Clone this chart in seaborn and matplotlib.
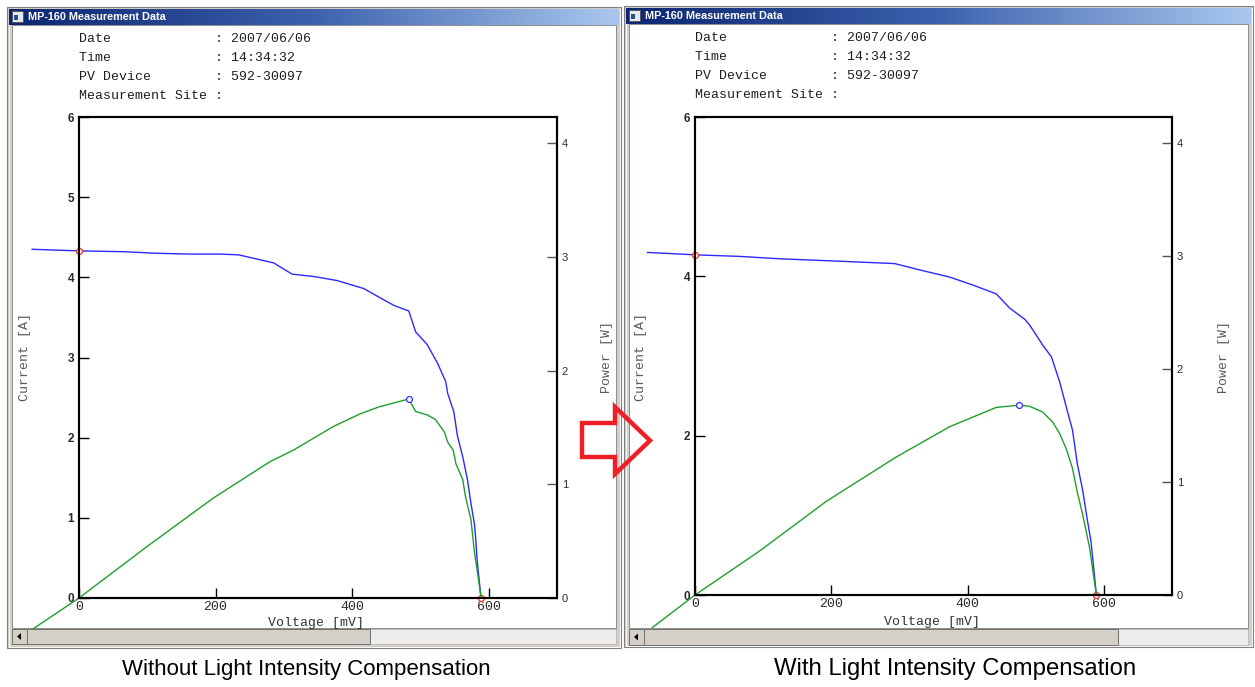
import numpy as np
import pandas as pd
import matplotlib
matplotlib.use("Agg")
import matplotlib.pyplot as plt
from matplotlib.patches import Rectangle, Polygon
from matplotlib.colors import LinearSegmentedColormap
import seaborn as sns

# ---- measured I-V and P-V data (voltage in mV, current in A, power in W) ----
# without light intensity compensation
voltage_iv_a = [-69, 0, 65, 114, 163, 207, 234, 285, 312, 344, 378, 417, 442, 461, 483,
                493, 510, 525, 537, 540, 549, 554, 562, 569, 574, 579, 581, 583, 588, 589]
current_a = [4.35, 4.33, 4.32, 4.30, 4.29, 4.29, 4.28, 4.18, 4.04, 4.01, 3.96, 3.86, 3.74, 3.65, 3.58,
             3.32, 3.16, 2.93, 2.70, 2.55, 2.32, 2.03, 1.76, 1.47, 1.18, 0.93, 0.74, 0.47, 0.06, 0.0]
voltage_p_a = [-67, 0, 99, 197, 280, 314, 373, 412, 439, 483, 493, 510, 522, 535, 540, 548,
               552, 562, 566, 574, 579, 588, 589]
power_a = [-0.27, 0.0, 0.45, 0.88, 1.20, 1.30, 1.51, 1.62, 1.68, 1.75, 1.64, 1.61, 1.57, 1.46, 1.37, 1.30,
           1.18, 1.04, 0.89, 0.69, 0.41, 0.04, 0.0]
isc_a, voc_a = 4.33, 589
vmp_a, pmax_a = 483, 1.75

# with light intensity compensation
voltage_iv_b = [-70, 0, 66, 125, 183, 239, 293, 330, 374, 408, 442, 462, 484, 491, 510, 523,
                535, 547, 554, 561, 569, 576, 581, 586, 589]
current_b = [4.30, 4.27, 4.25, 4.22, 4.20, 4.18, 4.16, 4.08, 3.99, 3.89, 3.78, 3.60, 3.46, 3.39, 3.14, 2.99,
             2.68, 2.29, 2.07, 1.65, 1.31, 0.93, 0.68, 0.26, 0.0]
voltage_p_b = [-63, 0, 95, 193, 295, 374, 418, 442, 476, 491, 510, 525, 535, 545, 554, 561, 569, 579, 589]
power_b = [-0.29, 0.0, 0.39, 0.83, 1.22, 1.49, 1.60, 1.66, 1.68, 1.67, 1.62, 1.53, 1.43, 1.29, 1.12,
           0.91, 0.71, 0.42, 0.0]
isc_b, voc_b = 4.27, 589
vmp_b, pmax_b = 476, 1.68

header_labels = ["Date", "Time", "PV Device", "Measurement Site"]
header_values = ["2007/06/06", "14:34:32", "592-30097", ""]
window_title = "MP-160 Measurement Data"
captions = ["Without Light Intensity Compensation", "With Light Intensity Compensation"]
voltage_ticks = [0, 200, 400, 600]
power_ticks = [0, 1, 2, 3, 4]
current_ticks_a = [0, 1, 2, 3, 4, 5, 6]
current_ticks_b = [0, 2, 4, 6]

W, H = 1255, 687
MONO = "Liberation Mono"
SANS = "Liberation Sans"
BLUE = "#2a2aff"
GREEN = "#1f9e2a"
FRAME = "#d4d0c8"

sns.set_style("ticks")
plt.rcParams["font.family"] = ["DejaVu Sans"]

fig = plt.figure(figsize=(W / 100, H / 100), dpi=100)
fig.patch.set_facecolor("white")


def frac(l, t, r, b):
    return [l / W, 1 - b / H, (r - l) / W, (b - t) / H]


bg = fig.add_axes([0, 0, 1, 1])
bg.set_zorder(0)
fg = fig.add_axes([0, 0, 1, 1])
fg.set_zorder(10)
for a in (bg, fg):
    a.set_xlim(0, W)
    a.set_ylim(H, 0)
    a.axis("off")
    a.patch.set_visible(False)

title_cmap = LinearSegmentedColormap.from_list("titlebar", ["#0c2572", "#3d62ad", "#a9c7ee"])
grad = np.linspace(0, 1, 256)[None, :]


def draw_window(x0, y0, x1, y1, client_top, client_bottom, scroll_bottom, thumb_end):
    # outer frame
    bg.add_patch(Rectangle((x0, y0), x1 - x0, y1 - y0, fc=FRAME, ec="#808080", lw=0.8, zorder=1))
    bg.add_patch(Rectangle((x0 + 1.5, y0 + 1.5), x1 - x0 - 3, y1 - y0 - 3, fc="none", ec="white",
                           lw=0.6, zorder=1.1))
    # title bar
    bg.imshow(grad, cmap=title_cmap, extent=(x0 + 2, x1 - 2, y0 + 18, y0 + 2), aspect="auto",
              zorder=2, interpolation="bilinear")
    bg.add_patch(Rectangle((x0 + 5, y0 + 4), 11, 11, fc="#e8e8e8", ec="#505050", lw=0.6, zorder=3))
    bg.add_patch(Rectangle((x0 + 7, y0 + 8), 4, 5, fc="#2050a0", ec="none", zorder=3.1))
    bg.text(x0 + 21, y0 + 10, window_title, color="white", fontsize=7.8, fontweight="bold",
            family=SANS, va="center", ha="left", zorder=4)
    # client area
    bg.add_patch(Rectangle((x0 + 5, client_top), x1 - x0 - 10, client_bottom - client_top,
                           fc="white", ec="#808080", lw=0.6, zorder=1.5))
    # horizontal scrollbar (drawn above the plot so curves end at it)
    sb_top = client_bottom + 1
    fg.add_patch(Rectangle((x0 + 5, sb_top), x1 - x0 - 10, scroll_bottom - sb_top,
                           fc="#ececec", ec="#b0b0b0", lw=0.5, zorder=1))
    fg.add_patch(Rectangle((x0 + 5, sb_top), 15, scroll_bottom - sb_top,
                           fc=FRAME, ec="#707070", lw=0.7, zorder=2))
    ym = (sb_top + scroll_bottom) / 2
    fg.add_patch(Polygon([(x0 + 10, ym), (x0 + 14, ym - 3.5), (x0 + 14, ym + 3.5)],
                         closed=True, fc="black", ec="none", zorder=3))
    fg.add_patch(Rectangle((x0 + 20, sb_top), thumb_end - (x0 + 20), scroll_bottom - sb_top,
                           fc=FRAME, ec="#707070", lw=0.7, zorder=2))


draw_window(7, 7, 621, 648, 25, 628, 644, 370)
draw_window(624, 6, 1253, 647, 24, 628, 645, 1118)

panels = [
    dict(box=(79, 117, 557, 598), hx=79, hy=39, iv=(voltage_iv_a, current_a), pv=(voltage_p_a, power_a),
         isc=isc_a, voc=voc_a, mp=(vmp_a, pmax_a), cticks=current_ticks_a, cur_x=25, pow_x=607,
         volt=(316, 623), cap=(306, 669), cap_size=16),
    dict(box=(695, 117, 1172, 595), hx=695, hy=38, iv=(voltage_iv_b, current_b), pv=(voltage_p_b, power_b),
         isc=isc_b, voc=voc_b, mp=(vmp_b, pmax_b), cticks=current_ticks_b, cur_x=641, pow_x=1224,
         volt=(932, 622), cap=(955, 669), cap_size=17.2),
]

for i, p in enumerate(panels):
    l, t, r, b = p["box"]
    ax = fig.add_axes(frac(l, t, r, b))
    ax.set_zorder(1)
    ax2 = ax.twinx()
    ax2.set_zorder(2)
    ax2.patch.set_visible(False)

    iv = pd.DataFrame({"voltage": p["iv"][0], "current": p["iv"][1]})
    pv = pd.DataFrame({"voltage": p["pv"][0], "power": p["pv"][1]})
    sns.lineplot(data=iv, x="voltage", y="current", ax=ax, sort=False, estimator=None,
                 color=BLUE, linewidth=1.0, legend=False)
    sns.lineplot(data=pv, x="voltage", y="power", ax=ax2, sort=False, estimator=None,
                 color=GREEN, linewidth=1.0, legend=False)
    for a in (ax, ax2):
        for ln in a.lines:
            ln.set_clip_on(False)

    sns.scatterplot(x=[0], y=[p["isc"]], ax=ax, marker="o", s=18, facecolor="white",
                    edgecolor="#ff2a2a", linewidth=0.9, clip_on=False, zorder=5, legend=False)
    sns.scatterplot(x=[p["voc"]], y=[0], ax=ax, marker="o", s=18, facecolor="white",
                    edgecolor="#ff2a2a", linewidth=0.9, clip_on=False, zorder=5, legend=False)
    sns.scatterplot(x=[p["mp"][0]], y=[p["mp"][1]], ax=ax2, marker="o", s=18, facecolor="white",
                    edgecolor="#3030ff", linewidth=0.9, clip_on=False, zorder=5, legend=False)

    ax.set_xlim(0, 700)
    ax.set_ylim(0, 6)
    ax2.set_ylim(0, 4.23)
    ax.set_xticks(voltage_ticks)
    ax.set_yticks(p["cticks"])
    ax2.set_yticks(power_ticks)
    ax.set_xlabel("")
    ax.set_ylabel("")
    ax2.set_ylabel("")

    for a in (ax, ax2):
        for s in a.spines.values():
            s.set_linewidth(1.5)
            s.set_color("black")
            s.set_visible(True)
    ax.tick_params(axis="y", direction="in", length=7, width=1.0, color="black", pad=3.5,
                   labelsize=8.5, labelcolor="#2a2a2a")
    ax.tick_params(axis="x", direction="in", length=7, width=1.0, color="black", pad=2.5,
                   labelsize=9.5, labelcolor="#2a2a2a")
    ax2.tick_params(axis="y", direction="in", length=7, width=1.0, color="#555555", pad=3.5,
                    labelsize=8, labelcolor="#2a2a2a")
    for lab in ax.get_yticklabels():
        lab.set_family(SANS)
        lab.set_fontweight("bold")
    for lab in ax.get_xticklabels():
        lab.set_family(MONO)
    for lab in ax2.get_yticklabels():
        lab.set_family(SANS)

    # header block
    for k, (name, val) in enumerate(zip(header_labels, header_values)):
        line = f"{name:<17}: {val}".rstrip()
        bg.text(p["hx"], p["hy"] + 19 * k, line, family=MONO, fontsize=9.5, color="#1e1e1e",
                ha="left", va="center", zorder=5)

    # axis titles
    bg.text(p["cur_x"], 357, "Current [A]", family=MONO, fontsize=9.5, color="#5a5a5a",
            rotation=90, ha="center", va="center", zorder=5)
    bg.text(p["pow_x"], 357, "Power [W]", family=MONO, fontsize=9.5, color="#5a5a5a",
            rotation=90, ha="center", va="center", zorder=5)
    bg.text(p["volt"][0], p["volt"][1], "Voltage [mV]", family=MONO, fontsize=9.5, color="#333333",
            ha="center", va="center", zorder=5)

    fg.text(p["cap"][0], p["cap"][1], captions[i], family=SANS, fontsize=p["cap_size"], color="black",
            ha="center", va="center", zorder=5)

# arrow between the two windows
arrow = [(582, 423), (615, 423), (615, 407), (650, 440.5), (615, 474), (615, 457), (582, 457)]
fg.add_patch(Polygon(arrow, closed=True, fc="none", ec="#ee1f26", lw=3.2, joinstyle="miter", zorder=6))

fig.savefig("out.png", dpi=100, facecolor="white")
